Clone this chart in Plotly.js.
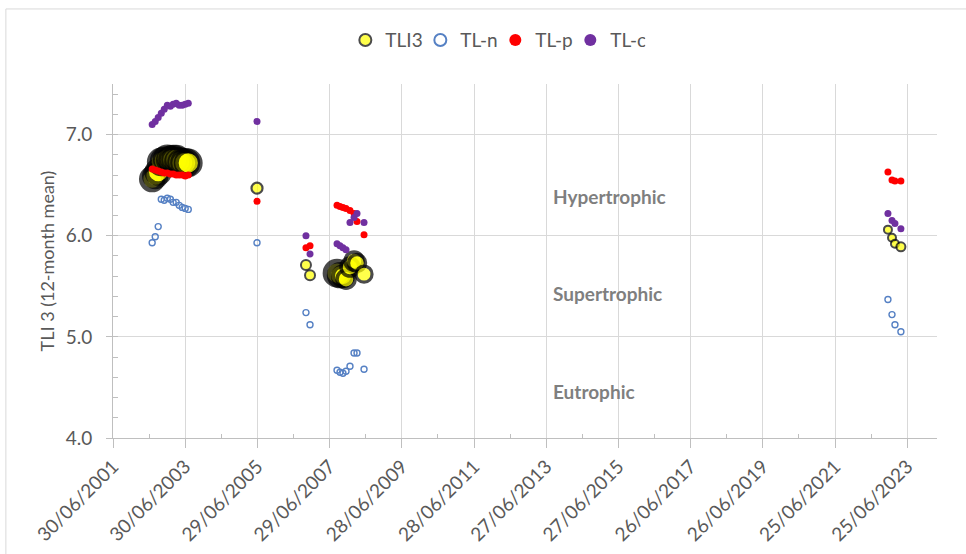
<!DOCTYPE html>
<html>
<head>
<meta charset="utf-8">
<script src="https://cdn.plot.ly/plotly-3.0.1.min.js"></script>
<style>
  html, body { margin: 0; padding: 0; background: #ffffff; }
  #chart { width: 966px; height: 554px; }
</style>
</head>
<body>
<div id="chart"></div>
<script>
// 12-month running means of the trophic level index (TLI3) and its components
const sampleDates = [
  '2002-07-31', '2002-08-31', '2002-09-30', '2002-10-31', '2002-11-30', '2002-12-31',
  '2003-01-31', '2003-02-28', '2003-03-31', '2003-04-30', '2003-05-31', '2003-06-30', '2003-07-31',
  '2005-06-25',
  '2006-11-02', '2006-12-13',
  '2007-09-12', '2007-10-12', '2007-11-11', '2007-12-12', '2008-01-21', '2008-03-02', '2008-04-01', '2008-06-11',
  '2022-12-12', '2023-01-22', '2023-02-21', '2023-04-22'
];
const tli3 = [6.56, 6.59, 6.63, 6.73, 6.74, 6.76, 6.75, 6.75, 6.75, 6.73, 6.72, 6.72, 6.72,
  6.47,
  5.71, 5.61,
  5.63, 5.61, 5.60, 5.57, 5.69, 5.75, 5.73, 5.62,
  6.06, 5.98, 5.92, 5.89];
const tln = [5.93, 5.99, 6.09, 6.36, 6.35, 6.37, 6.36, 6.33, 6.33, 6.30, 6.28, 6.27, 6.26,
  5.93,
  5.24, 5.12,
  4.67, 4.65, 4.64, 4.66, 4.71, 4.84, 4.84, 4.68,
  5.37, 5.22, 5.12, 5.05];
const tlp = [6.66, 6.65, 6.64, 6.63, 6.62, 6.62, 6.61, 6.61, 6.60, 6.60, 6.60, 6.59, 6.60,
  6.34,
  5.88, 5.90,
  6.30, 6.29, 6.28, 6.27, 6.25, 6.22, 6.14, 6.01,
  6.63, 6.55, 6.54, 6.54];
const tlc = [7.10, 7.13, 7.17, 7.21, 7.25, 7.29, 7.28, 7.30, 7.31, 7.29, 7.29, 7.30, 7.31,
  7.13,
  6.00, 5.82,
  5.92, 5.90, 5.88, 5.86, 6.13, 6.18, 6.22, 6.13,
  6.22, 6.15, 6.12, 6.07];
// bubble weight of each TLI3 point
const tli3Bubble = [22, 22, 23, 24, 24, 24, 24, 25, 25, 25, 25, 25, 24,
  11,
  10, 10,
  24, 22, 20, 18, 18, 18, 17, 16,
  8, 8, 8, 9];

const seriesNames = ['TLI3', 'TL-n', 'TL-p', 'TL-c'];
const tickDates = ['2001-06-30', '2003-06-30', '2005-06-29', '2007-06-29', '2009-06-28', '2011-06-28',
  '2013-06-27', '2015-06-27', '2017-06-26', '2019-06-26', '2021-06-25', '2023-06-25'];
const bandLabels = ['Hypertrophic', 'Supertrophic', 'Eutrophic'];

const axisEnd = '2024-04-21';
const DAY = 864e5;
const minorDates = tickDates
  .map(d => new Date(new Date(d + 'T00:00:00Z').getTime() + 365 * DAY).toISOString().slice(0, 10))
  .filter(d => d < axisEnd);

const FONT = 'Lato, "Open Sans", sans-serif';
const TEXT = '#595959';
const GRID = '#d9d9d9';
const AXIS = '#bfbfbf';

// bigger bubbles get a heavier outline
const bubbleOutline = tli3Bubble.map(s => Math.max(2, s * 0.2));

const traces = [
  {
    name: seriesNames[0], x: sampleDates, y: tli3, type: 'scatter', mode: 'markers',
    marker: { color: '#ffff00', size: tli3Bubble, line: { color: '#000000', width: bubbleOutline } }
  },
  {
    name: seriesNames[1], x: sampleDates, y: tln, type: 'scatter', mode: 'markers',
    marker: { symbol: 'circle-open', color: '#5681c4', size: 6, line: { width: 1.4 } }
  },
  {
    name: seriesNames[2], x: sampleDates, y: tlp, type: 'scatter', mode: 'markers',
    marker: { color: '#ff0000', size: 7 }
  },
  {
    name: seriesNames[3], x: sampleDates, y: tlc, type: 'scatter', mode: 'markers',
    marker: { color: '#7030a0', size: 7 }
  }
];

// white label boxes that sit over the vertical gridlines
const boxes = [[0.7571, 0.6356], [0.4887, 0.3701], [0.2062, 0.0847]];
const labelY = [0.681, 0.407, 0.130];

const shapes = boxes.map(b => ({
  type: 'rect', xref: 'paper', yref: 'paper', x0: 0.518, x1: 0.737, y0: b[1], y1: b[0],
  fillcolor: '#ffffff', line: { width: 0 }, layer: 'between'
}));
// outer chart frame
shapes.push({
  type: 'rect', xref: 'paper', yref: 'paper', x0: -0.13, x1: 1.06, y0: -0.4, y1: 1.212,
  fillcolor: 'rgba(0,0,0,0)', line: { color: GRID, width: 1 }, layer: 'below'
});

const annotations = bandLabels.map((t, i) => ({
  text: '<b>' + t + '</b>', xref: 'paper', yref: 'paper', x: 0.532, y: labelY[i],
  xanchor: 'left', yanchor: 'middle', showarrow: false,
  font: { family: FONT, size: 19, color: '#7f7f7f' }
}));

const layout = {
  width: 966, height: 554,
  margin: { l: 113, r: 29, t: 84, b: 116 },
  paper_bgcolor: '#ffffff', plot_bgcolor: '#ffffff',
  font: { family: FONT, color: TEXT },
  showlegend: true,
  legend: {
    orientation: 'h', x: 0.464, xanchor: 'center', y: 1.124, yanchor: 'middle',
    font: { family: FONT, size: 19, color: TEXT }, itemsizing: 'constant',
    entrywidth: 30, itemwidth: 30,
    bgcolor: 'rgba(0,0,0,0)', traceorder: 'normal'
  },
  xaxis: {
    type: 'date', range: ['2001-06-30', axisEnd],
    tickmode: 'array', tickvals: tickDates, tickformat: '%d/%m/%Y', tickangle: -45,
    ticks: 'outside', ticklen: 9, tickcolor: AXIS,
    showgrid: true, gridcolor: GRID, gridwidth: 1,
    showline: true, linecolor: AXIS, linewidth: 1, zeroline: false,
    tickfont: { family: FONT, size: 19, color: TEXT },
    minor: { tickmode: 'array', tickvals: minorDates, ticks: 'inside', ticklen: 4, tickcolor: AXIS, showgrid: false }
  },
  yaxis: {
    range: [4, 7.5], tick0: 0, dtick: 1, tickformat: '.1f',
    ticks: 'outside', ticklen: 6, tickcolor: AXIS, ticklabelstandoff: 10,
    showgrid: true, gridcolor: GRID, gridwidth: 1,
    showline: true, linecolor: AXIS, linewidth: 1, zeroline: false,
    tickfont: { family: FONT, size: 19, color: TEXT },
    minor: { tick0: 0, dtick: 0.2, ticks: 'inside', ticklen: 5, tickcolor: AXIS, showgrid: false },
    title: { text: 'TLI 3 (12-month mean)', font: { family: FONT, size: 18, color: TEXT }, standoff: 6 }
  },
  shapes: shapes,
  annotations: annotations
};

Plotly.newPlot('chart', traces, layout, { staticPlot: true, displayModeBar: false });
</script>
</body>
</html>
